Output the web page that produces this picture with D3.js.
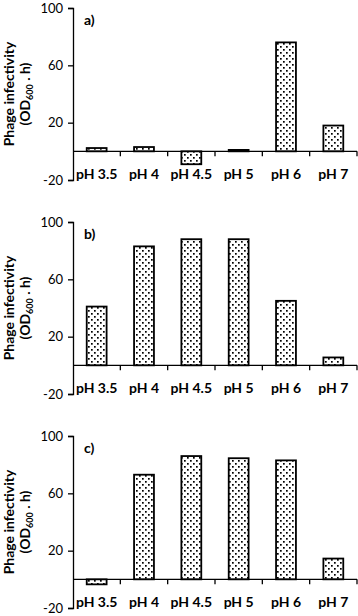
<!DOCTYPE html>
<html>
<head>
<meta charset="utf-8">
<script src="https://cdn.jsdelivr.net/npm/d3@7"></script>
<style>
  body { margin: 0; background: #fff; }
  text { font-family: Lato, "Open Sans", sans-serif; fill: #000; }
</style>
</head>
<body>
<script>
var w = 358;
var h = 616;

// data
var categories = ["pH 3.5", "pH 4", "pH 4.5", "pH 5", "pH 6", "pH 7"];
var valuesA = [2.3, 3, -9, 1, 76, 18];
var valuesB = [41, 83, 88, 88, 45, 5.5];
var valuesC = [-3.5, 73, 86, 84.5, 83, 14.5];
var panelLabels = ["a)", "b)", "c)"];
var yTicks = [-20, 20, 60, 100];

var panels = [
  { label: panelLabels[0], values: valuesA, top: 8 },
  { label: panelLabels[1], values: valuesB, top: 222 },
  { label: panelLabels[2], values: valuesC, top: 436 }
];

var left = 73, right = 357, plotH = 172;

var svg = d3.select("body").append("svg")
  .attr("width", w)
  .attr("height", h);

// dotted fill
var pat = svg.append("defs").append("pattern")
  .attr("id", "dots")
  .attr("patternUnits", "userSpaceOnUse")
  .attr("width", 6)
  .attr("height", 6);
pat.append("rect").attr("width", 6).attr("height", 6).attr("fill", "#fff");
pat.append("rect").attr("x", 1).attr("y", 1).attr("width", 1.7).attr("height", 1.7).attr("fill", "#000");
pat.append("rect").attr("x", 4).attr("y", 4).attr("width", 1.7).attr("height", 1.7).attr("fill", "#000");

var x = d3.scaleBand()
  .domain(categories)
  .range([left, right])
  .padding(0);

panels.forEach(function (p) {
  var y = d3.scaleLinear()
    .domain([-20, 100])
    .range([p.top + plotH, p.top]);

  var g = svg.append("g");

  // y axis
  var yAxis = g.append("g")
    .attr("transform", "translate(" + left + ",0)")
    .call(d3.axisLeft(y).tickValues(yTicks).tickSize(5).tickPadding(5)
      .tickFormat(function (d) { return String(d); }));
  yAxis.select(".domain").attr("stroke", "#000").attr("stroke-width", 1.3);
  yAxis.selectAll(".tick line").attr("stroke", "#000").attr("stroke-width", 1.3);
  yAxis.selectAll(".tick text")
    .style("font-family", "Lato, sans-serif")
    .style("font-size", "13px")
    .attr("fill", "#000");

  // bars
  var bw = x.bandwidth() * 0.42;
  g.selectAll("rect.bar")
    .data(p.values)
    .enter()
    .append("rect")
    .attr("class", "bar")
    .attr("x", function (d, i) { return x(categories[i]) + (x.bandwidth() - bw) / 2; })
    .attr("y", function (d) { return y(Math.max(0, d)); })
    .attr("width", bw)
    .attr("height", function (d) { return Math.abs(y(d) - y(0)); })
    .attr("fill", "url(#dots)")
    .attr("stroke", "#000")
    .attr("stroke-width", 1.8);

  // category axis along zero
  g.append("line")
    .attr("x1", left)
    .attr("x2", right)
    .attr("y1", y(0))
    .attr("y2", y(0))
    .attr("stroke", "#000")
    .attr("stroke-width", 1.3);

  g.selectAll("line.ctick")
    .data(categories)
    .enter()
    .append("line")
    .attr("class", "ctick")
    .attr("x1", function (d) { return x(d) + x.bandwidth(); })
    .attr("x2", function (d) { return x(d) + x.bandwidth(); })
    .attr("y1", y(0))
    .attr("y2", y(0) + 5)
    .attr("stroke", "#000")
    .attr("stroke-width", 1.3);

  g.selectAll("text.cat")
    .data(categories)
    .enter()
    .append("text")
    .attr("class", "cat")
    .attr("x", function (d) { return x(d) + x.bandwidth() / 2; })
    .attr("y", y(0) + 28)
    .attr("text-anchor", "middle")
    .style("font-size", "14px")
    .style("font-weight", "bold")
    .text(function (d) { return d; });

  // panel label
  g.append("text")
    .attr("x", left + 11)
    .attr("y", p.top + 17)
    .style("font-size", "14px")
    .style("font-weight", "bold")
    .text(p.label);

  // y title
  var cy = p.top + plotH / 2;
  g.append("text")
    .attr("transform", "translate(14," + cy + ") rotate(-90)")
    .attr("text-anchor", "middle")
    .style("font-size", "14px")
    .style("font-weight", "bold")
    .text("Phage infectivity");

  var t2 = g.append("text")
    .attr("transform", "translate(30," + cy + ") rotate(-90)")
    .attr("text-anchor", "middle")
    .style("font-size", "14px")
    .style("font-weight", "bold");
  t2.append("tspan").text("(OD");
  t2.append("tspan").attr("dy", 3).style("font-size", "9px").text("600");
  t2.append("tspan").attr("dy", -3).text(" . h)");
});
</script>
</body>
</html>
